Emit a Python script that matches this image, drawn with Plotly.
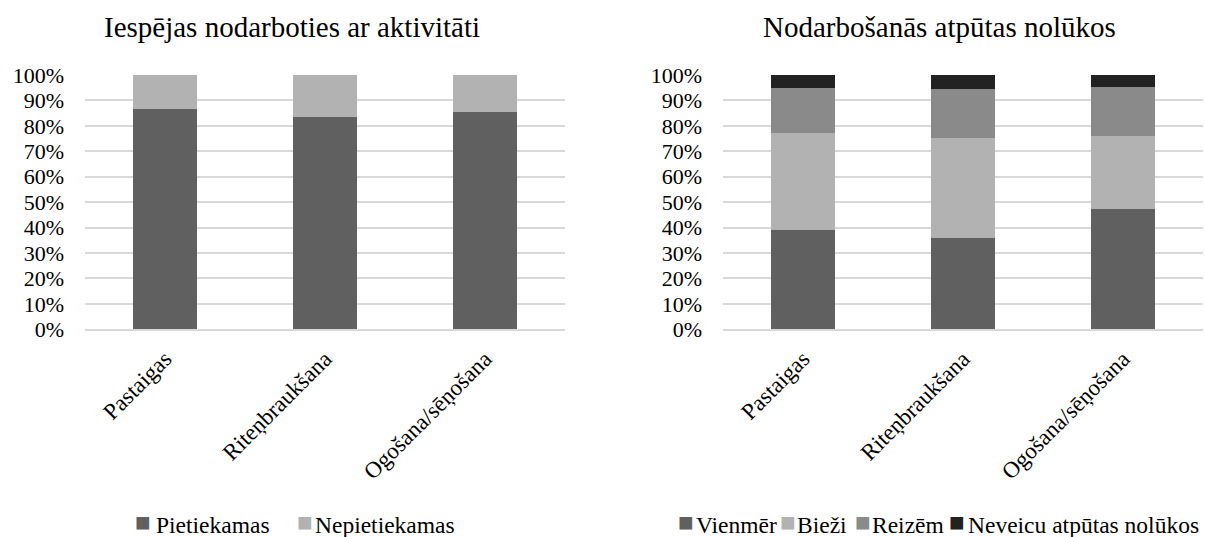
import plotly.graph_objects as go

# Activities (shared categories)
activities = ["Pastaigas", "Riteņbraukšana", "Ogošana/sēņošana"]

# Left chart: opportunity to do the activity (%)
pietiekamas = [86.7, 83.6, 85.3]
nepietiekamas = [13.3, 16.4, 14.7]

# Right chart: frequency of doing it for recreation (%)
vienmer = [39.1, 35.9, 47.3]
biezi = [38.0, 39.2, 28.9]
reizem = [17.9, 19.5, 19.0]
neveicu = [5.0, 5.4, 4.8]

FONT = "Liberation Serif"
GRID = "#d9d9d9"
W, H = 1205, 537

# (values, name, colour, axis suffix, legend key x / text x in px)
series = [
    (pietiekamas, "Pietiekamas", "#606060", "", 143, 154),
    (nepietiekamas, "Nepietiekamas", "#b2b2b2", "", 305, 313),
    (vienmer, "Vienmēr", "#606060", "2", 686, 694),
    (biezi, "Bieži", "#b2b2b2", "2", 788, 795),
    (reizem, "Reizēm", "#8a8a8a", "2", 863, 870),
    (neveicu, "Neveicu atpūtas nolūkos", "#222222", "2", 957, 966),
]

LEG_Y = 1 - 525 / H
KEY_Y = 1 - 522 / H

fig = go.Figure()
legend_notes = []
for vals, name, col, ax, kx, tx in series:
    fig.add_trace(go.Bar(x=activities, y=vals, name=name, marker_color=col,
                         marker_line_width=0, xaxis="x" + ax, yaxis="y" + ax,
                         showlegend=False))
    # legend key and label underneath each chart
    legend_notes.append(dict(text="■", x=kx / W, y=KEY_Y, xref="paper", yref="paper",
                             showarrow=False, xanchor="center", yanchor="middle",
                             font=dict(family=FONT, size=26, color=col)))
    legend_notes.append(dict(text=name, x=tx / W, y=LEG_Y, xref="paper", yref="paper",
                             showarrow=False, xanchor="left", yanchor="middle",
                             font=dict(family=FONT, size=23.5, color="#000")))

y_top = 1 - 75 / H
y_bot = 1 - 329.3 / H

tickfont = dict(family=FONT, size=22, color="#000")
yaxis_common = dict(range=[0, 100], dtick=10, ticksuffix="%", showgrid=True,
                    gridcolor=GRID, gridwidth=2, zeroline=False, showline=False,
                    tickfont=tickfont, ticklabelstandoff=20, fixedrange=True,
                    automargin=False, domain=[y_bot, y_top])
xaxis_common = dict(showgrid=False, showline=True, linecolor=GRID, linewidth=2,
                    tickangle=-45, tickfont=dict(family=FONT, size=23, color="#000"),
                    ticks="", ticklabelstandoff=5, automargin=False, fixedrange=True)

titles = [
    dict(text="Iespējas nodarboties ar aktivitāti", x=292 / W, y=1 - 27 / H,
         xref="paper", yref="paper", showarrow=False, xanchor="center", yanchor="middle",
         font=dict(family=FONT, size=29, color="#000")),
    dict(text="Nodarbošanās atpūtas nolūkos", x=939 / W, y=1 - 27 / H,
         xref="paper", yref="paper", showarrow=False, xanchor="center", yanchor="middle",
         font=dict(family=FONT, size=29, color="#000")),
]

fig.update_layout(
    template="none",
    width=W, height=H,
    margin=dict(l=0, r=0, t=0, b=0, autoexpand=False),
    paper_bgcolor="white", plot_bgcolor="white",
    barmode="stack", bargap=0.6,
    showlegend=False,
    font=dict(family=FONT, size=22, color="#000"),
    xaxis=dict(domain=[85 / W, 565 / W], anchor="y", **xaxis_common),
    yaxis=dict(anchor="x", **yaxis_common),
    xaxis2=dict(domain=[723 / W, 1203 / W], anchor="y2", **xaxis_common),
    yaxis2=dict(anchor="x2", **yaxis_common),
    annotations=titles + legend_notes,
)

fig.write_html("out.html")
